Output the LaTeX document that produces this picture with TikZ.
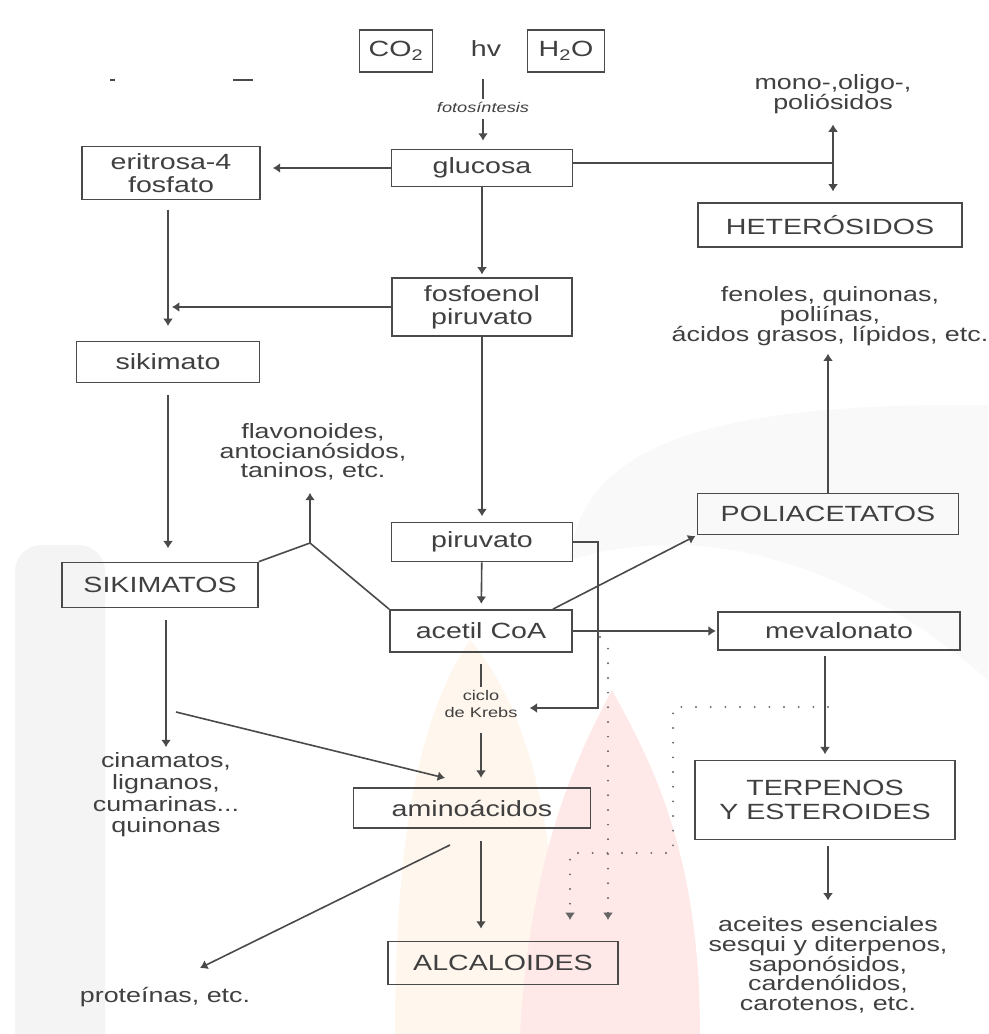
\documentclass[tikz,border=0pt]{standalone}
\usepackage{fontspec}
\setmainfont[FakeStretch=1.3]{Liberation Sans}
\usetikzlibrary{calc,arrows.meta}

\definecolor{lineGray}{HTML}{4A4A4A}
\definecolor{textGray}{HTML}{404040}
\newcommand{\boxfont}{\fontsize{16.5}{17.5}\selectfont}
\newcommand{\notefont}{\fontsize{15.5}{14.8}\selectfont}
\newcommand{\tinyfont}{\fontsize{10.5}{13}\selectfont}

\begin{document}
\begin{tikzpicture}[x=0.75pt,y=-0.75pt,
  box/.style={draw=lineGray,line width=1.3pt,text=textGray,font=\boxfont,inner sep=0pt,align=center},
  note/.style={text=textGray,font=\notefont,inner sep=1pt,align=center},
  tiny/.style={text=textGray,font=\tinyfont\itshape,inner sep=1pt,align=center},
  wh/.style 2 args={minimum width=#1*0.75pt,minimum height=#2*0.75pt},
  link/.style={draw=lineGray,line width=1.2pt},
  arr/.style={link,-{Latex[length=5.5pt,width=7.5pt]},shorten >=3pt},
  dots/.style={draw=lineGray!85,line width=1.6pt,line cap=round,dash pattern=on 0pt off 11pt,-{Latex[length=5.5pt,width=7.5pt]}}]

\fill[white] (0,0) rectangle (988,1034);
\useasboundingbox (0,0) rectangle (988,1034);

% faint watermark behind the scheme
\fill[gray!9] (15,1034) -- (15,575) [rounded corners=20pt] -- (15,545) -- (105,545) [sharp corners] -- (105,1034) -- cycle;
\fill[gray!5] (570,560) .. controls (580,450) and (700,405) .. (960,405) -- (988,405) -- (988,680) .. controls (850,560) and (700,520) .. (570,560) -- cycle;
\fill[orange!7] (395,1034) .. controls (395,800) and (430,700) .. (470,640) .. controls (520,700) and (560,800) .. (560,1034) -- cycle;
\fill[red!9] (520,1034) .. controls (530,850) and (580,750) .. (612,690) .. controls (650,760) and (700,850) .. (700,1034) -- cycle;

% stray marks
\draw[lineGray,line width=1.5pt] (110,80) -- (115,80);
\draw[lineGray,line width=1.5pt] (233,80) -- (253,80);

% photosynthesis
\node[box,wh={73}{42}] (co2) at (396,51) {CO\textsubscript{2}};
\node[text=textGray,font=\boxfont] (hv) at (486,49) {hv};
\node[box,wh={77}{42}] (h2o) at (566,51) {H\textsubscript{2}O};
\node[tiny] (foto) at (483,107) {fotosíntesis};

% boxes
\node[box,wh={181}{37}] (glucosa) at (482,168) {glucosa};
\node[box,wh={178}{53}] (eritrosa) at (171,173) {eritrosa-4\\fosfato};
\node[box,wh={180}{58}] (fosfo) at (482,307) {fosfoenol\\piruvato};
\node[box,wh={183}{41}] (sikimato) at (168,362) {sikimato};
\node[box,wh={196}{45}] (sikimatos) at (160,585) {SIKIMATOS};
\node[box,wh={181}{39}] (piruvato) at (482,542) {piruvato};
\node[box,wh={182}{42}] (acetil) at (481,631) {acetil CoA};
\node[box,wh={237}{40}] (amino) at (472,808) {aminoácidos};
\node[box,wh={230}{43}] (alcal) at (503,963) {ALCALOIDES};
\node[box,wh={264}{44}] (hetero) at (830,225) {HETERÓSIDOS};
\node[box,wh={261}{41}] (poliac) at (828,514) {POLIACETATOS};
\node[box,wh={242}{38}] (meval) at (839,631) {mevalonato};
\node[box,wh={260}{79}] (terp) at (825,800) {TERPENOS\\Y ESTEROIDES};

% products
\node[note] (oligo) at (833,94) {mono-,oligo-,\\poliósidos};
\node[note] (fenoles) at (830,316) {fenoles, quinonas,\\poliínas,\\ácidos grasos, lípidos, etc.};
\node[note] (flavon) at (313,452) {flavonoides,\\antocianósidos,\\taninos, etc.};
\node[note,font=\fontsize{15.5}{16.3}\selectfont] (cinam) at (166,795) {cinamatos,\\lignanos,\\cumarinas...\\quinonas};
\node[note] (prot) at (165,997) {proteínas, etc.};
\node[note] (aceites) at (828,965) {aceites esenciales\\sesqui y diterpenos,\\saponósidos,\\cardenólidos,\\carotenos, etc.};
\node[tiny,font=\tinyfont] (krebs) at (481,704) {ciclo\\de Krebs};

\coordinate (gjunc) at (833,163);
\coordinate (fjunc) at (310,543);
\coordinate (pkrebs) at (598,708);
\coordinate (sdiag) at (176,712);
\coordinate (adiag) at (445,778);
\coordinate (pdiag) at (450,845);
\coordinate (prtip) at (200,968);
\coordinate (dotA) at (600,637);
\coordinate (dotB) at (828,707);

% connectors
\draw[link,shorten <=13pt,shorten >=1pt] (hv.south -| foto.north) -- (foto.north);
\draw[arr,shorten <=4pt,shorten >=6pt] (foto.south) -- (foto.south |- glucosa.north);
\draw[arr,shorten >=9pt] (glucosa.west) -- (glucosa.west -| eritrosa.east);
\draw[arr,shorten >=2pt] (glucosa) -- (fosfo);
\draw[link] (glucosa.east |- gjunc) -- (gjunc);
\draw[arr,shorten >=7pt] (gjunc) -- (oligo.south -| gjunc);
\draw[arr,shorten >=8pt] (gjunc) -- (hetero.north -| gjunc);

\draw[arr,shorten <=7pt,shorten >=11pt] (eritrosa.south -| sikimato.north) -- (sikimato.north);
\draw[arr] (fosfo.west) -- (fosfo.west -| sikimato.north);
\draw[arr,shorten >=4pt] (fosfo) -- (piruvato);
\draw[arr,shorten <=9pt,shorten >=10pt] (sikimato.south) -- (sikimato.south |- sikimatos.north);

\draw[link] (sikimatos.north east) -- (fjunc) -- (acetil.north west);
\draw[arr,shorten >=8pt] (fjunc) -- (fjunc |- flavon.south);

\draw[arr,shorten >=4pt] (piruvato) -- (acetil);
\draw[arr,shorten >=8pt] (piruvato.east) -| (pkrebs) -- (pkrebs -| krebs.east);
\draw[arr,shorten >=1pt] ($(acetil.north east)+(-20,0)$) -- (poliac.south west);
\draw[arr,shorten >=1pt] (acetil) -- (meval);
\draw[arr,shorten >=5pt] (poliac) -- (poliac.north |- fenoles.south);
\draw[arr,shorten <=4pt,shorten >=4pt] (meval.south -| terp.north) -- (terp.north);
\draw[arr,shorten <=4pt,shorten >=11pt] (terp.south -| aceites.north) -- (aceites.north);

\draw[link,shorten <=8pt,shorten >=1pt] (acetil.south) -- (krebs.north);
\draw[arr,shorten <=10pt,shorten >=7pt] (krebs.south) -- (krebs.south |- amino.north);
\draw[arr,shorten <=9pt] (sikimatos.south -| cinam.north) -- (cinam.north);
\draw[arr,shorten >=0pt] (sdiag) -- (adiag);
\draw[arr,shorten >=0pt] (pdiag) -- (prtip);
\draw[arr,shorten <=9pt,shorten >=9pt] (amino.south -| krebs.south) -- (alcal.north -| krebs.south);

% dotted routes
\draw[dots] (dotA) -- (608,646) -- (608,920);
\draw[dots] (dotB) -- (673,707) -- (673,853) -- (570,853) -- (570,920);
\end{tikzpicture}
\end{document}
